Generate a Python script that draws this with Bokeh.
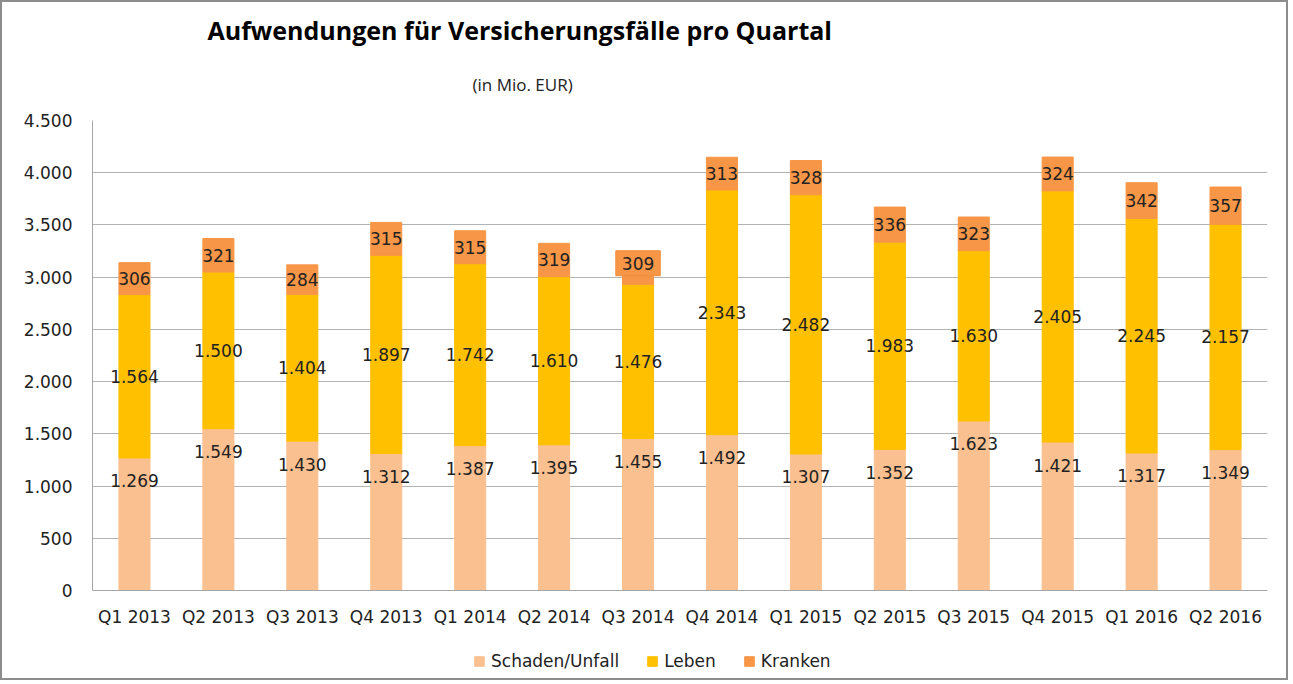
from bokeh.plotting import figure
from bokeh.layouts import column
from bokeh.models import ColumnDataSource, Legend, LegendItem, Title, CustomJSTickFormatter, SingleIntervalTicker
from bokeh.core.properties import value
from bokeh.embed import file_html
from bokeh.resources import INLINE

quarters = ["Q1 2013", "Q2 2013", "Q3 2013", "Q4 2013", "Q1 2014", "Q2 2014", "Q3 2014",
            "Q4 2014", "Q1 2015", "Q2 2015", "Q3 2015", "Q4 2015", "Q1 2016", "Q2 2016"]
schaden = [1269, 1549, 1430, 1312, 1387, 1395, 1455, 1492, 1307, 1352, 1623, 1421, 1317, 1349]
leben = [1564, 1500, 1404, 1897, 1742, 1610, 1476, 2343, 2482, 1983, 1630, 2405, 2245, 2157]
kranken = [306, 321, 284, 315, 315, 319, 309, 313, 328, 336, 323, 324, 342, 357]
series = ["Schaden/Unfall", "Leben", "Kranken"]
boxed = [i == 6 for i in range(len(quarters))]  # Q3 2014 label drawn with a box

def de(v):
    return f"{v:,}".replace(",", ".")

s_top = schaden
l_top = [a + b for a, b in zip(schaden, leben)]
k_top = [a + b for a, b in zip(l_top, kranken)]
l_mid = [a + b / 2 for a, b in zip(schaden, leben)]
k_mid = [a + b / 2 for a, b in zip(l_top, kranken)]

src = ColumnDataSource(dict(
    q=quarters, s=schaden, l=leben, k=kranken,
    s_top=s_top, l_top=l_top, k_top=k_top, l_mid=l_mid, k_mid=k_mid,
    s_lab=[de(v) for v in schaden], l_lab=[de(v) for v in leben], k_lab=[de(v) for v in kranken],
))
kb = [i for i, b in enumerate(boxed) if b]
kn = [i for i, b in enumerate(boxed) if not b]
src_kn = ColumnDataSource(dict(q=[quarters[i] for i in kn], y=[k_mid[i] for i in kn], t=[de(kranken[i]) for i in kn]))
src_kb = ColumnDataSource(dict(q=[quarters[i] for i in kb], y=[k_mid[i] for i in kb], t=[de(kranken[i]) for i in kb]))

C_S = "#FAC090"
C_L = "#FFC000"
C_K = "#F79646"
colors = [C_S, C_L, C_K]

W = 1284
p = figure(x_range=quarters, y_range=(0, 4500), width=W, height=640,
           output_backend="svg", toolbar_location=None, title=None,
           min_border_left=90, min_border_right=19, min_border_top=118, min_border_bottom=52)

p.add_layout(Title(text="(in Mio. EUR)", text_font="Open Sans", text_font_size="17px",
                   text_font_style="normal", align="left", offset=380, standoff=49,
                   text_line_height=0.8, text_color="#222222"), "above")
p.add_layout(Title(text="Aufwendungen für Versicherungsfälle pro Quartal", text_font="Open Sans",
                   text_font_size="25px", text_font_style="bold", align="left", offset=115,
                   standoff=0, text_line_height=0.7, text_color="#000000"), "above")

r_s = p.vbar(x="q", bottom=0, top="s_top", width=0.37, color=C_S, source=src)
r_l = p.vbar(x="q", bottom="s_top", top="l_top", width=0.37, color=C_L, source=src)
r_k = p.vbar(x="q", bottom="l_top", top="k_top", width=0.37, color=C_K, source=src)

font = value("DejaVu Sans")
FS = "17px"
p.text(x="q", y="s_top", text="s_lab", source=src, text_align="center", text_baseline="middle",
       y_offset=23, text_font=font, text_font_size=FS, text_color="#222222")
p.text(x="q", y="l_mid", text="l_lab", source=src, text_align="center", text_baseline="middle",
       text_font=font, text_font_size=FS, text_color="#222222")
p.text(x="q", y="y", text="t", source=src_kn, text_align="center", text_baseline="middle",
       text_font=font, text_font_size=FS, text_color="#222222")
p.text(x="q", y="y", text="t", source=src_kb, text_align="center", text_baseline="middle",
       y_offset=-5, text_font=font, text_font_size=FS, text_color="#222222",
       background_fill_color=C_K, border_line_color="#F08C3C", padding=6)

p.xgrid.grid_line_color = None
p.ygrid.grid_line_color = "#B3B3B3"
p.ygrid.grid_line_width = 1
p.outline_line_color = None
p.yaxis.ticker = SingleIntervalTicker(interval=500)
p.yaxis.formatter = CustomJSTickFormatter(code="""
    var s = Math.round(tick).toString();
    return s.replace(/\\B(?=(\\d{3})+(?!\\d))/g, '.');
""")
for ax in (p.xaxis, p.yaxis):
    ax.axis_line_color = "#A6A6A6"
    ax.major_tick_line_color = None
    ax.minor_tick_line_color = None
    ax.major_label_text_font = "DejaVu Sans"
    ax.major_label_text_font_size = FS
    ax.major_label_text_color = "#222222"
p.yaxis.major_label_standoff = 14
p.xaxis.major_label_standoff = 10

# legend strip below the chart (swatch renderers sit outside the visible range)
lg = figure(width=W, height=36, x_range=(0, 1), y_range=(0, 1), output_backend="svg",
            toolbar_location=None, min_border=0, outline_line_color=None)
lg.axis.visible = False
lg.grid.visible = False
items = []
for name, c in zip(series, colors):
    r = lg.vbar(x=[-10], bottom=[-10], top=[-9], width=0.1, color=c)
    items.append(LegendItem(label=name, renderers=[r]))
legend = Legend(items=items, orientation="horizontal", location=(381, 7), border_line_color=None,
                background_fill_alpha=0,
                label_text_font="DejaVu Sans", label_text_font_size=FS, label_text_color="#222222",
                glyph_width=12, glyph_height=12, spacing=27, label_standoff=6, margin=0, padding=2)
lg.add_layout(legend)

layout = column(p, lg, spacing=0)
layout.styles = {"border": "2px solid #8C8C8C"}

open("out.html", "w").write(file_html(layout, INLINE))
